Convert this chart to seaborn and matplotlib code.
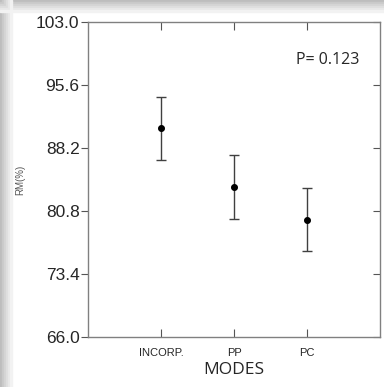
import pandas as pd
import matplotlib.pyplot as plt
import seaborn as sns
from matplotlib.patches import Rectangle

# Values
modes = ['INCORP.', 'PP', 'PC']
rm_mean = [90.6, 83.6, 79.8]
rm_upper = [94.2, 87.4, 83.5]
rm_lower = [86.8, 79.9, 76.1]
y_ticks = [66.0, 73.4, 80.8, 88.2, 95.6, 103.0]

df = pd.DataFrame({'mode': modes, 'rm': rm_mean, 'hi': rm_upper, 'lo': rm_lower})

sns.set_style('ticks')
plt.rcParams['font.family'] = ['Liberation Sans', 'DejaVu Sans']

fig = plt.figure(figsize=(3.84, 3.87), dpi=100)
ax = fig.add_axes([0.229, 0.129, 0.761, 0.814])

# shadow strips around the chart frame
shades = ['#bdbdbd', '#c9c9c9', '#d4d4d4', '#dedede', '#e8e8e8', '#f2f2f2']
for i, c in enumerate(shades):
    fig.patches.append(Rectangle((i * 0.005, 0), 0.005, 1, transform=fig.transFigure,
                                 color=c, zorder=-1))
    fig.patches.append(Rectangle((0, 1 - (i + 1) * 0.005), 1, 0.005, transform=fig.transFigure,
                                 color=c, zorder=-1))

sns.pointplot(data=df, x='mode', y='rm', order=modes, errorbar=None, linestyle='none',
              color='black', markers='o', markersize=3, ax=ax, zorder=3)
ax.errorbar(range(len(modes)), df['rm'],
            yerr=[df['rm'] - df['lo'], df['hi'] - df['rm']],
            fmt='none', ecolor='#404040', elinewidth=1, capsize=3.5, capthick=1)

ax.set_xlim(-1, 3)
ax.set_ylim(66, 103)
ax.set_yticks(y_ticks)
ax.set_yticklabels([f'{v:.1f}' for v in y_ticks], fontsize=12.5)
ax.tick_params(axis='x', labelsize=8, direction='in', length=6, top=True, bottom=True,
               color='#555555', pad=8)
ax.tick_params(axis='y', direction='out', length=5, left=True, right=False,
               color='#555555', pad=1)
right = ax.secondary_yaxis('right')
right.set_yticks(y_ticks, labels=[])
right.tick_params(direction='in', length=5, color='#555555')
right.spines['right'].set_visible(False)
for spine in ax.spines.values():
    spine.set_visible(True)
    spine.set_color('#808080')
    spine.set_linewidth(1)

ax.set_xlabel('MODES', fontsize=12.5, family=['Open Sans', 'DejaVu Sans'], labelpad=3)
ax.set_ylabel('RM(%)', fontsize=7, color='#555555', labelpad=8)
ax.text(0.93, 0.88, 'P= 0.123', transform=ax.transAxes, ha='right', va='center',
        fontsize=11.5, family=['Open Sans', 'DejaVu Sans'])

fig.savefig('out.png', dpi=100)
